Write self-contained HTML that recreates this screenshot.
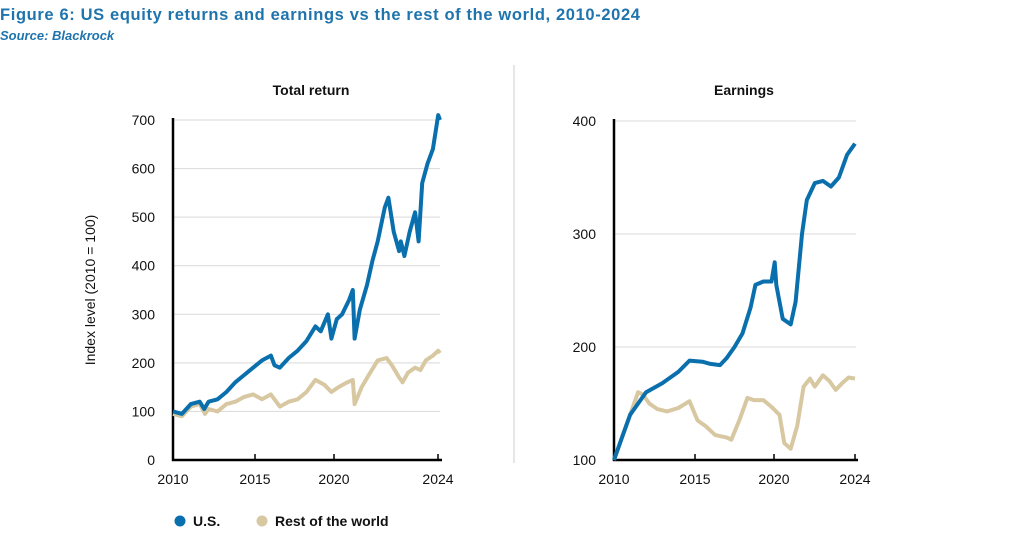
<!DOCTYPE html>
<html><head><meta charset="utf-8"><style>
body{margin:0;width:1024px;height:533px;background:#fff;overflow:hidden;font-family:"Liberation Sans",sans-serif}
svg{position:absolute;left:0;top:0}
</style></head><body>
<svg id="c" width="1024" height="533" viewBox="0 0 1024 533">
<text x="0" y="20" font-size="16.5" font-weight="bold" fill="#1f74ad" textLength="640">Figure 6: US equity returns and earnings vs the rest of the world, 2010-2024</text>
<text x="0" y="40" font-size="13" font-weight="bold" font-style="italic" fill="#1f74ad">Source: Blackrock</text>
<line x1="514" y1="65" x2="514" y2="463" stroke="#cccccc" stroke-width="1"/>
<text x="311" y="95" font-size="14" font-weight="bold" text-anchor="middle" fill="#111">Total return</text>
<text x="744" y="95" font-size="14" font-weight="bold" text-anchor="middle" fill="#111">Earnings</text>
<text transform="translate(95,290) rotate(-90)" font-size="14" text-anchor="middle" fill="#111">Index level (2010 = 100)</text>
<g id="left"></g>
<g id="right"></g>
<circle cx="180" cy="521" r="5.5" fill="#0a6fad"/>
<text x="193" y="526" font-size="14" font-weight="bold" fill="#111">U.S.</text>
<circle cx="262" cy="521" r="5.5" fill="#d8c8a2"/>
<text x="275" y="526" font-size="14" font-weight="bold" fill="#111">Rest of the world</text>
</svg>
<script>
const trYears=[2010,2010.5,2011,2011.5,2011.75,2012,2012.5,2013,2013.5,2014,2014.5,2015,2015.5,2015.7,2016,2016.5,2017,2017.5,2018,2018.3,2018.7,2018.9,2019.2,2019.5,2019.9,2020.1,2020.2,2020.5,2020.9,2021.2,2021.5,2021.9,2022.1,2022.4,2022.7,2022.8,2023,2023.3,2023.6,2023.8,2024,2024.3,2024.6,2024.9,2025];
const trUS=[100,95,115,120,105,120,125,140,160,175,190,205,215,195,190,210,225,245,275,265,300,250,290,300,330,350,250,310,360,410,450,520,540,470,430,450,420,470,510,450,570,610,640,710,700];
const trRowYears=[2010,2010.5,2011,2011.5,2011.8,2012,2012.5,2013,2013.5,2014,2014.5,2015,2015.5,2016,2016.5,2017,2017.5,2018,2018.5,2018.9,2019.3,2019.8,2020.1,2020.2,2020.6,2021,2021.5,2022,2022.3,2022.7,2022.9,2023.2,2023.6,2023.9,2024.2,2024.6,2024.9,2025];
const trRow=[95,90,110,115,95,105,100,115,120,130,135,125,135,110,120,125,140,165,155,140,150,160,165,115,150,175,205,210,195,170,160,180,190,185,205,215,225,220];
const erYears=[2010,2010.5,2011,2011.5,2012,2013,2014,2014.7,2015.5,2016,2016.6,2017,2017.5,2018,2018.5,2018.8,2019.3,2019.8,2020,2020.1,2020.5,2021,2021.3,2021.7,2022,2022.5,2023,2023.5,2024,2024.5,2025];
const erUS=[100,120,140,150,160,168,178,188,187,185,184,190,200,212,235,255,258,258,275,255,225,220,240,300,330,345,347,342,350,370,380];
const erRowYears=[2010,2010.5,2011,2011.5,2011.8,2012.2,2012.7,2013.3,2014,2014.7,2015.2,2015.7,2016.3,2017,2017.3,2017.8,2018.3,2018.7,2019.3,2019.8,2020.3,2020.6,2021,2021.4,2021.8,2022.2,2022.5,2023,2023.4,2023.8,2024.2,2024.6,2025];
const erRow=[100,120,140,160,158,150,145,143,146,152,135,130,122,120,118,135,155,153,153,147,140,115,110,130,165,172,165,175,170,162,168,173,172];
const trTicks=[0,100,200,300,400,500,600,700];
const erTicks=[100,200,300,400];
const xLabels=["2010","2015","2020","2024"];

const NS="http://www.w3.org/2000/svg";
function mk(parent,tag,attrs){const e=document.createElementNS(NS,tag);for(const k in attrs)e.setAttribute(k,attrs[k]);parent.appendChild(e);return e;}
function panel(g,cfg){
  const x=v=>cfg.x0+(v-2010)/(2025-2010)*(cfg.x1-cfg.x0);
  const y=v=>cfg.yb-(v-cfg.ymin)/(cfg.ymax-cfg.ymin)*(cfg.yb-cfg.yt);
  cfg.ticks.forEach(t=>{
    if(t!==cfg.ymin){const l=mk(g,'line',{x1:cfg.x0,x2:cfg.gridEnd,y1:y(t),y2:y(t),stroke:'#d9d9d9','stroke-width':1});
    
    }
    const tx=mk(g,'text',{x:cfg.x0-18,y:y(t)+5,'font-size':14,'text-anchor':'end',fill:'#111'});tx.textContent=t;
    
    
  });
  const ax=mk(g,'path',{d:`M${cfg.x0},${cfg.yt-2}V${cfg.yb}H${cfg.gridEnd+2}`,fill:'none',stroke:'#000','stroke-width':2.5});
  
  
  xLabels.forEach((lab,i)=>{
    const px=cfg.labelPos[i];
    const tk=mk(g,'line',{x1:px,x2:px,y1:cfg.yb,y2:cfg.yb-6,stroke:'#000','stroke-width':1.5});
    
    
    const t=mk(g,'text',{x:px,y:cfg.yb+24,'font-size':14,'text-anchor':'middle',fill:'#111'});t.textContent=lab;
    
    
  });
  cfg.series.forEach(s=>{
    const d=s.xs.map((v,i)=>(i?'L':'M')+x(v).toFixed(1)+','+y(s.ys[i]).toFixed(1)).join('');
    const p=mk(g,'path',{d:d,fill:'none',stroke:s.color,'stroke-width':4,'stroke-linejoin':'round'});
    
    
  });
}
panel(document.getElementById('left'),{x0:173,x1:440,yb:460,yt:120,ymin:0,ymax:700,gridEnd:440,ticks:trTicks,labelPos:[173,255,334,438],
  series:[{xs:trRowYears,ys:trRow,color:'#d8c8a2',name:'total-return-row-line'},{xs:trYears,ys:trUS,color:'#0a6fad',name:'total-return-us-line'}]});
panel(document.getElementById('right'),{x0:614,x1:855,yb:460,yt:121,ymin:100,ymax:400,gridEnd:856,ticks:erTicks,labelPos:[614,695,774,855],
  series:[{xs:erRowYears,ys:erRow,color:'#d8c8a2',name:'earnings-row-line'},{xs:erYears,ys:erUS,color:'#0a6fad',name:'earnings-us-line'}]});
</script>
</body></html>
